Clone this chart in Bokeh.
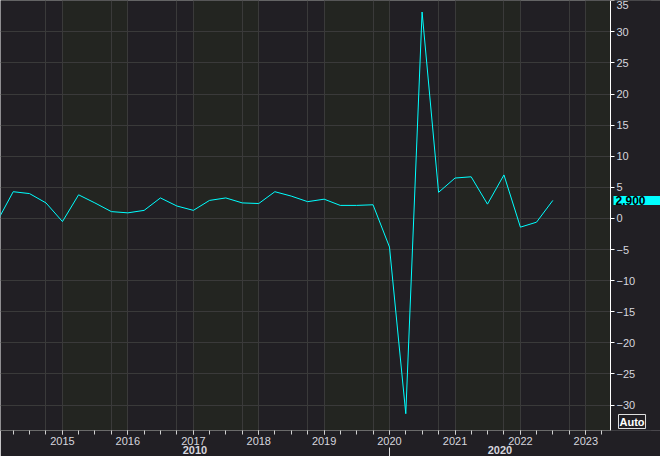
import pandas as pd
from bokeh.plotting import figure
from bokeh.models import (FixedTicker, DatetimeTickFormatter, DatetimeAxis, Range1d,
                          Label, ColumnDataSource, Grid, BoxAnnotation)
from bokeh.embed import file_html
from bokeh.resources import INLINE

# ---- data (US real GDP, q/q annualized %, plotted at quarter start) ----
quarters = ["2014Q1", "2014Q2", "2014Q3", "2014Q4",
            "2015Q1", "2015Q2", "2015Q3", "2015Q4",
            "2016Q1", "2016Q2", "2016Q3", "2016Q4",
            "2017Q1", "2017Q2", "2017Q3", "2017Q4",
            "2018Q1", "2018Q2", "2018Q3", "2018Q4",
            "2019Q1", "2019Q2", "2019Q3", "2019Q4",
            "2020Q1", "2020Q2", "2020Q3", "2020Q4",
            "2021Q1", "2021Q2", "2021Q3", "2021Q4",
            "2022Q1", "2022Q2", "2022Q3"]
growth = [-0.5, 4.3, 4.0, 2.5,
          -0.5, 3.8, 2.5, 1.1,
          0.9, 1.3, 3.3, 2.0,
          1.3, 2.9, 3.3, 2.5,
          2.4, 4.3, 3.6, 2.7,
          3.1, 2.1, 2.1, 2.2,
          -4.6, -31.4, 33.2, 4.2,
          6.5, 6.7, 2.3, 7.0,
          -1.4, -0.6, 2.9]
year_labels = [2014, 2015, 2016, 2017, 2018, 2019, 2020, 2021, 2022, 2023, 2024]
decade_labels = ["2010", "2020"]
y_ticks = [-30, -25, -20, -15, -10, -5, 0, 5, 10, 15, 20, 25, 30, 35]

FONT = "Liberation Sans"
TXT = "#d6d6de"
BG = "#211f24"
BAND = "#232521"
GRID = "#3a3a3a"
FIG_W, FIG_H = 660, 456
AXIS_X = 610          # pixel position of the right value axis


def ms(ts):
    return int(pd.Timestamp(ts).value // 10**6)


x_dates = pd.PeriodIndex(quarters, freq="Q").start_time
source = ColumnDataSource(dict(x=x_dates, y=growth))

x_start = pd.Timestamp("2014-01-20")
x_end = pd.Timestamp("2023-05-19")          # date at the value axis
x_right = x_start + (x_end - x_start) * (FIG_W / AXIS_X)   # frame spans full width

p = figure(width=FIG_W, height=FIG_H, x_axis_type="datetime", y_axis_location="right",
           x_range=Range1d(x_start, x_right), y_range=Range1d(-34.1, 35.05),
           output_backend="svg", toolbar_location=None,
           background_fill_color=BG, border_fill_color=BG, outline_line_color=None,
           min_border_left=0, min_border_top=0, min_border_right=0, min_border_bottom=0)

start_ms = ms(x_start)
end_ms = ms(x_end)


def visible(ticks):
    return [t for t in ticks if start_ms <= t < end_ms]


year_ms = [ms(f"{y}-01-01") for y in year_labels]
oct_ms = [ms(f"{y}-10-01") for y in year_labels]
quarter_ms = [ms(f"{y}-{m:02d}-01") for y in year_labels for m in (1, 4, 7, 10)]

p.xgrid.ticker = FixedTicker(ticks=visible(sorted(year_ms + oct_ms)))
p.xgrid.grid_line_color = GRID
p.ygrid.ticker = FixedTicker(ticks=y_ticks)
p.ygrid.grid_line_color = GRID

# alternating yearly bands (2015, 2017, ... shaded), drawn beneath the grid lines
band_grid = Grid(dimension=0, ticker=FixedTicker(ticks=year_ms[1:]), grid_line_color=None,
                 band_fill_color=BAND, band_fill_alpha=1.0)
p.center = [band_grid] + list(p.center)

# plain background right of the value axis
p.add_layout(BoxAnnotation(left=end_ms, fill_color=BG, fill_alpha=1.0,
                           line_color=None, level="underlay"))

p.line("x", "y", source=source, line_color="#00ffff", line_width=1)

# x axis (years)
xa = p.xaxis[0]
xa.ticker = FixedTicker(ticks=visible(year_ms), minor_ticks=visible(quarter_ms))
xa.formatter = DatetimeTickFormatter(days="%Y", months="%Y", years="%Y")
xa.bounds = (start_ms, end_ms)
xa.axis_line_color = "#6a6a6a"
xa.major_tick_line_color = "#d0d0d0"
xa.minor_tick_line_color = "#d0d0d0"
xa.major_tick_in = 0
xa.major_tick_out = 4
xa.minor_tick_in = 0
xa.minor_tick_out = 4
xa.major_label_standoff = 2
xa.major_label_text_font = FONT
xa.major_label_text_font_size = "11px"
xa.major_label_text_color = TXT

# decade row
mid_2010 = (start_ms + ms("2020-01-01")) // 2
mid_2020 = (ms("2020-01-01") + end_ms) // 2
dec_axis = DatetimeAxis(ticker=FixedTicker(ticks=[mid_2010, mid_2020],
                                           minor_ticks=[ms("2020-01-01")]),
                        major_label_overrides={mid_2010: decade_labels[0],
                                               mid_2020: decade_labels[1]})
dec_axis.axis_line_color = None
dec_axis.major_tick_line_color = None
dec_axis.major_tick_in = 0
dec_axis.major_tick_out = 0
dec_axis.minor_tick_in = 0
dec_axis.minor_tick_out = 9
dec_axis.minor_tick_line_color = "#e0e0e0"
dec_axis.major_label_standoff = -11
dec_axis.major_label_text_font = FONT
dec_axis.major_label_text_font_size = "11px"
dec_axis.major_label_text_font_style = "bold"
dec_axis.major_label_text_color = TXT
p.add_layout(dec_axis, "below")

# value axis, pinned at x_end
ya = p.yaxis[0]
ya.fixed_location = end_ms
ya.ticker = FixedTicker(ticks=y_ticks)
ya.axis_line_color = "white"
ya.major_tick_line_color = "white"
ya.major_tick_in = 0
ya.major_tick_out = 4
ya.minor_tick_line_color = None
ya.major_label_standoff = 2
ya.major_label_text_font = FONT
ya.major_label_text_font_size = "11px"
ya.major_label_text_color = TXT

# last value tag
p.add_layout(Label(x=end_ms, y=growth[-1], x_offset=3,
                   text=f"{growth[-1]:.3f}", text_baseline="middle",
                   text_font=FONT, text_font_size="12px", text_font_style="bold",
                   text_color="black", background_fill_color="#00ffff",
                   padding=dict(left=2, right=18, top=0, bottom=0)))
# "Auto" button
p.add_layout(Label(x=end_ms, x_offset=8, y=2, y_units="screen", text="Auto",
                   text_font=FONT, text_font_size="11px", text_font_style="bold",
                   text_color="white", border_line_color="#e0e0e0",
                   padding=1))

open("out.html", "w").write(file_html(p, INLINE))
